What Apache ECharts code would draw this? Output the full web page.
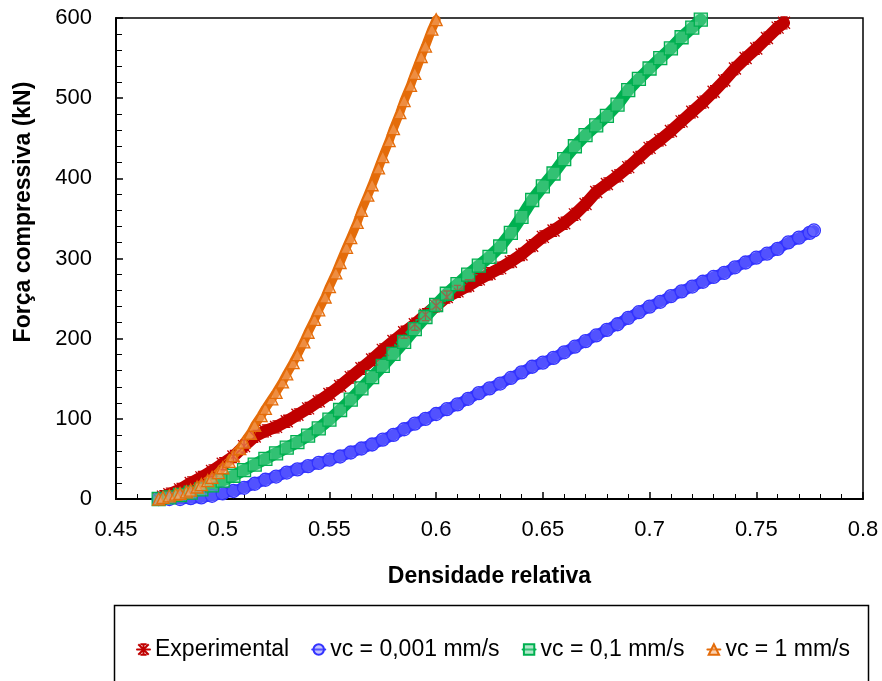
<!DOCTYPE html>
<html><head><meta charset="utf-8">
<script src="https://cdn.jsdelivr.net/npm/echarts@6/dist/echarts.min.js"></script>
<style>html,body{margin:0;padding:0;background:#fff}#c{width:882px;height:681px}</style>
</head><body><div id="c"></div>
<script>
const seriesNames = ['Experimental', 'vc = 0,001 mm/s', 'vc = 0,1 mm/s', 'vc = 1 mm/s'];
const xTitle = 'Densidade relativa';
const yTitle = 'Força compressiva (kN)';

const experimental = [
[0.470,0],[0.472,3],[0.475,6],[0.480,12],[0.485,20],[0.490,27],[0.495,35],[0.500,44],[0.505,53],[0.510,66],
[0.515,78],[0.520,85],[0.525,90],[0.530,97],[0.535,105],[0.540,113],[0.545,122],[0.550,131],[0.555,141],[0.560,152],
[0.565,163],[0.570,174],[0.575,186],[0.580,197],[0.585,208],[0.590,218],[0.595,230],[0.600,241],[0.605,252],[0.610,259],
[0.615,266],[0.620,274],[0.625,281],[0.630,288],[0.635,296],[0.640,305],[0.645,316],[0.650,327],[0.655,335],[0.660,344],
[0.665,355],[0.670,368],[0.675,383],[0.680,393],[0.685,403],[0.690,414],[0.695,426],[0.700,438],[0.705,448],[0.710,459],
[0.715,471],[0.720,483],[0.725,495],[0.730,508],[0.735,522],[0.740,537],[0.745,550],[0.750,562],[0.755,575],[0.760,588],[0.763,594]
];

const vcSlow = [
[0.470,0],[0.475,0],[0.480,0],[0.485,1],[0.490,2],[0.495,4],[0.500,7],[0.505,10],[0.510,14],[0.515,19],
[0.520,24],[0.525,28],[0.530,33],[0.535,37],[0.540,41],[0.545,45],[0.550,49],[0.555,53],[0.560,58],[0.565,63],
[0.570,68],[0.575,74],[0.580,80],[0.585,87],[0.590,94],[0.595,100],[0.600,106],[0.605,112],[0.610,118],[0.615,125],
[0.620,132],[0.625,138],[0.630,144],[0.635,151],[0.640,158],[0.645,165],[0.650,170],[0.655,176],[0.660,183],[0.665,190],
[0.670,197],[0.675,204],[0.680,211],[0.685,218],[0.690,226],[0.695,233],[0.700,240],[0.705,246],[0.710,253],[0.715,259],
[0.720,265],[0.725,271],[0.730,277],[0.735,282],[0.740,289],[0.745,295],[0.750,301],[0.755,306],[0.760,312],[0.765,320],
[0.770,326],[0.775,332],[0.777,335]
];

const vcMedium = [
[0.470,0],[0.475,2],[0.480,5],[0.485,8],[0.490,12],[0.495,17],[0.500,23],[0.505,29],[0.510,36],[0.515,43],
[0.520,50],[0.525,57],[0.530,64],[0.535,71],[0.540,79],[0.545,88],[0.550,99],[0.555,111],[0.560,124],[0.565,138],
[0.570,152],[0.575,166],[0.580,181],[0.585,196],[0.590,212],[0.595,227],[0.600,242],[0.605,256],[0.610,268],[0.615,280],
[0.620,291],[0.625,302],[0.630,315],[0.635,332],[0.640,352],[0.645,373],[0.650,390],[0.655,406],[0.660,424],[0.665,440],
[0.670,454],[0.675,466],[0.680,478],[0.685,492],[0.690,510],[0.695,524],[0.700,537],[0.705,550],[0.710,562],[0.715,576],
[0.720,588],[0.724,598]
];

const vcFast = [
[0.470,0],[0.472,2],[0.475,4],[0.478,6],[0.480,7],[0.483,9],[0.485,11],[0.488,15],[0.490,18],[0.493,23],
[0.495,27],[0.498,33],[0.500,39],[0.503,47],[0.505,54],[0.508,63],[0.510,71],[0.513,82],[0.515,92],[0.518,104],
[0.520,113],[0.523,125],[0.525,133],[0.528,146],[0.530,156],[0.533,170],[0.535,180],[0.538,196],[0.540,208],[0.543,224],
[0.545,236],[0.548,252],[0.550,265],[0.553,282],[0.555,295],[0.558,314],[0.560,326],[0.563,345],[0.565,360],[0.568,379],
[0.570,392],[0.573,413],[0.575,427],[0.578,447],[0.580,462],[0.583,482],[0.585,497],[0.588,516],[0.590,531],[0.593,552],
[0.595,565],[0.598,586],[0.600,598]
];

const FONT = '"Liberation Sans", Arial, sans-serif';
const starPath = 'path://M0,0L10,10M0,10L10,0M5,0L5,10M2,0L8,0M2,10L8,10';

function mk(name, data, color, fill, symbol, size, lw) {
  return {
    name: name, type: 'line', data: data,
    symbol: symbol, symbolSize: size, showSymbol: true,
    lineStyle: {color: color, width: lw, cap: 'round', join: 'round'},
    itemStyle: {color: fill, borderColor: color, borderWidth: 1.3},
    emphasis: {disabled: true},
    z: 2
  };
}

const chart = echarts.init(document.getElementById('c'), null, {renderer: 'canvas'});
chart.setOption({
  animation: false,
  backgroundColor: '#fff',
  grid: {left: 116, right: 19, top: 18, bottom: 182, show: true, borderColor: '#000', borderWidth: 1.5, backgroundColor: 'transparent'},
  xAxis: {
    type: 'value', min: 0.45, max: 0.8, interval: 0.05,
    name: xTitle, nameLocation: 'middle', nameGap: 66,
    nameTextStyle: {fontFamily: FONT, fontWeight: 'bold', fontSize: 23, color: '#000'},
    axisLine: {onZero: false, lineStyle: {color: '#000', width: 2}},
    axisTick: {inside: true, length: 7, lineStyle: {color: '#000', width: 1.5}},
    minorTick: {show: true, splitNumber: 5, length: 5, lineStyle: {color: '#000', width: 1}},
    splitLine: {show: false},
    axisLabel: {fontFamily: FONT, fontSize: 22, color: '#000', margin: 20, formatter: v => String(+v.toFixed(2))}
  },
  yAxis: {
    type: 'value', min: 0, max: 600, interval: 100,
    axisLine: {show: true, onZero: false, lineStyle: {color: '#000', width: 2}},
    axisTick: {show: true, inside: true, length: 7, lineStyle: {color: '#000', width: 1.5}},
    minorTick: {show: true, splitNumber: 5, length: 6, lineStyle: {color: '#000', width: 1}},
    splitLine: {show: false},
    axisLabel: {fontFamily: FONT, fontSize: 22, color: '#000', margin: 24}
  },
  legend: {
    left: 131, top: 633, itemGap: 22, itemWidth: 13, itemHeight: 13,
    textStyle: {fontFamily: FONT, fontSize: 23, color: '#000'},
    data: seriesNames
  },
  graphic: [
    {type: 'rect', left: 112, top: 603, shape: {width: 754, height: 100}, style: {fill: 'none', stroke: '#000', lineWidth: 1.5}, silent: true},
    {type: 'text', x: 24, y: 212, rotation: Math.PI / 2,
     style: {text: yTitle, font: 'bold 23px ' + FONT, fill: '#000', textAlign: 'center', textVerticalAlign: 'middle'}}
  ],
  series: [
    mk(seriesNames[0], experimental, '#C00000', '#C00000', starPath, 12, 12),
    mk(seriesNames[1], vcSlow, '#3333FF', 'rgba(120,120,255,0.45)', 'circle', 13, 11),
    mk(seriesNames[2], vcMedium, '#00B050', 'rgba(100,210,150,0.5)', 'rect', 13, 12),
    mk(seriesNames[3], vcFast, '#E46C0A', 'rgba(245,170,110,0.55)', 'triangle', 12, 9)
  ]
});
</script></body></html>
